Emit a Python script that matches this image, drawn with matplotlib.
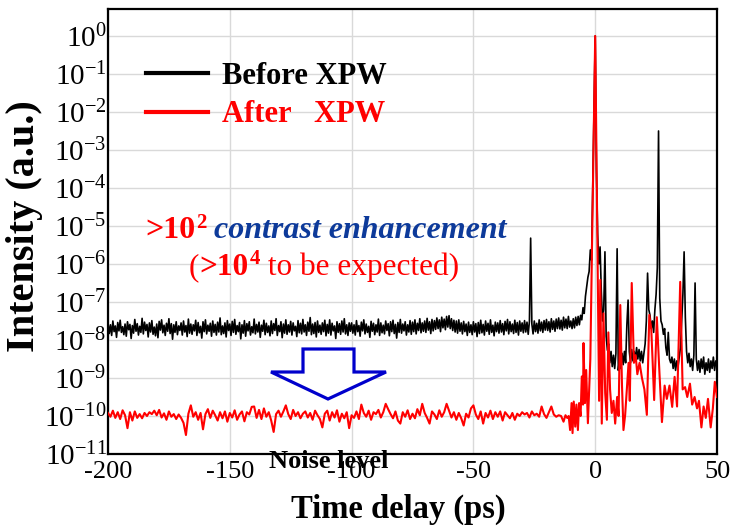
import numpy as np
import matplotlib
matplotlib.use("Agg")
import matplotlib.pyplot as plt
from matplotlib.ticker import FuncFormatter
from matplotlib.patches import Polygon

plt.rcParams['font.family'] = ['Liberation Serif', 'DejaVu Serif']
plt.rcParams['mathtext.fontset'] = 'custom'
plt.rcParams['mathtext.rm'] = 'Liberation Serif'
plt.rcParams['mathtext.bf'] = 'Liberation Serif:bold'

# ---------------- data (log10 of intensity) ----------------
# Before XPW: sampled every 0.5 ps from -200 ps to 50 ps
before_start, before_step = -200.0, 0.5
before_log = [
    # -200 .. -100.5
    -7.56,-7.83,-7.60,-7.88,-7.50,-7.78,-7.63,-7.93,-7.54,-7.76,
    -7.48,-7.80,-7.65,-7.86,-7.58,-7.90,-7.52,-7.73,-7.59,-7.96,
    -7.62,-7.82,-7.46,-7.77,-7.57,-7.87,-7.64,-7.80,-7.43,-7.84,
    -7.53,-7.75,-7.59,-7.92,-7.55,-7.79,-7.49,-7.85,-7.66,-7.89,
    -7.58,-7.94,-7.51,-7.74,-7.47,-7.81,-7.61,-7.88,-7.56,-7.77,
    -7.44,-7.83,-7.57,-7.98,-7.60,-7.80,-7.52,-7.86,-7.63,-7.75,
    -7.55,-7.87,-7.50,-7.79,-7.62,-7.91,-7.45,-7.82,-7.58,-7.85,
    -7.60,-7.76,-7.48,-7.88,-7.54,-7.81,-7.64,-7.95,-7.52,-7.78,
    -7.47,-7.84,-7.61,-7.77,-7.56,-7.90,-7.50,-7.80,-7.59,-7.87,
    -7.53,-7.79,-7.42,-7.86,-7.63,-7.83,-7.55,-7.92,-7.49,-7.75,
    -7.58,-7.88,-7.51,-7.80,-7.46,-7.85,-7.62,-7.78,-7.54,-7.97,
    -7.60,-7.82,-7.49,-7.90,-7.57,-7.76,-7.52,-7.87,-7.65,-7.81,
    -7.45,-7.84,-7.59,-7.79,-7.53,-7.93,-7.61,-7.77,-7.48,-7.86,
    -7.56,-7.80,-7.63,-7.89,-7.50,-7.83,-7.57,-7.75,-7.44,-7.88,
    -7.62,-7.78,-7.52,-7.94,-7.58,-7.82,-7.47,-7.85,-7.60,-7.79,
    -7.51,-7.87,-7.55,-7.76,-7.64,-7.91,-7.49,-7.81,-7.56,-7.84,
    -7.46,-7.79,-7.60,-7.88,-7.53,-7.77,-7.41,-7.86,-7.58,-7.83,
    -7.54,-7.92,-7.50,-7.80,-7.61,-7.85,-7.55,-7.78,-7.48,-7.89,
    -7.59,-7.82,-7.47,-7.87,-7.56,-7.76,-7.63,-7.96,-7.52,-7.80,
    -7.57,-7.85,-7.50,-7.79,-7.44,-7.84,-7.60,-7.88,-7.55,-7.77,
    # -100 .. -10.5
    -7.55,-7.82,-7.60,-7.87,-7.49,-7.78,-7.62,-7.90,-7.53,-7.76,
    -7.47,-7.84,-7.58,-7.80,-7.64,-7.93,-7.51,-7.77,-7.56,-7.86,
    -7.60,-7.79,-7.45,-7.88,-7.55,-7.81,-7.61,-7.84,-7.50,-7.75,
    -7.57,-7.89,-7.52,-7.78,-7.48,-7.83,-7.59,-7.95,-7.54,-7.80,
    -7.46,-7.82,-7.58,-7.76,-7.52,-7.87,-7.60,-7.79,-7.49,-7.85,
    -7.53,-7.78,-7.47,-7.84,-7.56,-7.75,-7.44,-7.81,-7.55,-7.77,
    -7.50,-7.80,-7.43,-7.74,-7.52,-7.83,-7.46,-7.76,-7.49,-7.72,
    -7.42,-7.70,-7.47,-7.78,-7.40,-7.68,-7.45,-7.73,-7.38,-7.66,
    -7.36,-7.70,-7.44,-7.75,-7.48,-7.79,-7.50,-7.82,-7.47,-7.77,
    -7.55,-7.84,-7.51,-7.78,-7.58,-7.88,-7.53,-7.80,-7.60,-7.86,
    -7.52,-7.79,-7.57,-7.91,-7.54,-7.83,-7.48,-7.81,-7.59,-7.87,
    -7.50,-7.77,-7.56,-7.85,-7.47,-7.80,-7.61,-7.89,-7.53,-7.78,
    -7.55,-7.82,-7.49,-7.79,-7.57,-7.86,-7.51,-7.76,-7.46,-7.84,
    -7.52,-7.78,-7.58,-7.83,-7.48,-7.80,-7.54,-7.87,-7.50,-7.77,
    -7.55,-7.81,-7.49,-7.79,-7.53,-7.85,-7.51,-5.32,-7.58,-7.84,
    -7.50,-7.78,-7.56,-7.82,-7.47,-7.76,-7.53,-7.80,-7.49,-7.74,
    -7.46,-7.75,-7.52,-7.79,-7.44,-7.72,-7.50,-7.77,-7.45,-7.70,
    -7.42,-7.71,-7.48,-7.74,-7.40,-7.68,-7.45,-7.70,-7.38,-7.66,
    # -10 .. 50
    -7.50,-7.70,-7.44,-7.68,-7.40,-7.62,-7.38,-7.60,-7.35,-7.47,
    -7.15,-7.30,-6.85,-6.60,-6.35,-6.20,-5.63,-5.90,-4.00,-2.00,
    0.00,-3.50,-5.20,-6.00,-5.55,-6.70,-7.50,-7.20,-5.68,-7.90,
    -8.27,-8.10,-8.60,-8.30,-8.70,-8.40,-8.75,-8.35,-5.60,-8.80,
    -8.45,-8.75,-8.35,-8.65,-8.30,-8.60,-7.60,-6.95,-8.30,-8.60,
    -8.25,-8.55,-8.30,-8.50,-8.20,-8.50,-8.25,-8.55,-8.30,-8.60,
    -8.35,-8.10,-7.50,-6.24,-7.20,-7.35,-7.70,-7.50,-7.80,-7.20,
    -6.80,-6.10,-2.50,-6.90,-7.50,-7.60,-7.85,-7.70,-8.20,-8.40,
    -7.80,-8.50,-8.60,-8.45,-8.75,-8.50,-8.80,-8.55,-8.70,-8.45,
    -8.20,-7.50,-6.80,-5.68,-7.40,-8.30,-8.60,-8.35,-8.70,-8.50,
    -8.80,-8.40,-6.50,-8.50,-8.80,-8.55,-8.85,-8.50,-8.75,-8.45,
    -8.90,-8.60,-8.80,-8.50,-8.85,-8.55,-8.75,-8.45,-8.80,-8.55,
    -8.70,
]

# After XPW: background every 1 ps from -200 to -15 ps
after_base_start, after_base_step = -200.0, 1.0
after_base_log = [
    -9.92,-10.02,-9.86,-10.05,-9.90,-10.08,-9.85,-9.98,-10.32,-9.90,
    -10.12,-9.88,-10.05,-9.95,-10.06,-9.92,-10.00,-9.90,-9.95,-9.86,
    -9.98,-9.84,-10.04,-9.93,-10.10,-9.88,-10.02,-9.95,-10.08,-9.96,
    -10.05,-10.18,-10.50,-9.94,-9.72,-10.02,-9.90,-10.10,-9.92,-10.35,
    -9.95,-9.82,-10.05,-9.86,-9.98,-10.12,-9.90,-10.06,-9.88,-10.15,
    -9.92,-10.04,-9.85,-10.10,-9.96,-9.88,-10.14,-9.90,-9.96,-9.76,
    -9.75,-10.05,-9.84,-10.08,-9.80,-10.02,-9.90,-10.12,-10.42,-9.95,
    -9.86,-10.02,-9.88,-9.72,-9.95,-10.08,-9.84,-10.00,-9.90,-10.06,
    -9.94,-9.88,-10.04,-9.92,-10.10,-9.86,-9.98,-10.08,-10.30,-9.94,
    -9.86,-10.12,-9.90,-10.04,-9.85,-10.15,-9.94,-10.06,-9.90,-10.32,
    -9.98,-10.05,-9.88,-10.08,-9.70,-9.92,-10.02,-9.86,-10.10,-9.90,
    -9.95,-9.84,-10.04,-9.90,-9.68,-9.82,-9.95,-10.06,-9.88,-10.12,
    -10.20,-9.90,-10.02,-9.85,-10.08,-9.94,-10.06,-9.82,-9.98,-9.68,
    -9.92,-10.05,-10.20,-9.88,-9.96,-10.08,-9.85,-10.02,-9.90,-9.68,
    -9.86,-10.04,-9.90,-10.10,-9.92,-10.06,-10.25,-9.94,-10.04,-9.80,
    -9.72,-9.96,-10.08,-9.88,-10.20,-9.92,-10.04,-9.86,-10.08,-9.90,
    -10.02,-9.88,-10.12,-9.90,-9.98,-10.06,-9.92,-10.10,-9.94,-10.00,
    -9.90,-9.96,-9.92,-10.04,-9.88,-9.98,-9.94,-10.02,-9.75,-9.95,
    -10.05,-9.90,-9.75,-9.96,-10.02,-9.98,
]
# After XPW: pulse region (time in ps, log10 intensity)
after_pulse_t = [
    -14.0,-13.0,-12.2,-11.5,-10.9,-10.3,-9.7,-9.3,-8.8,-8.2,-7.7,-7.1,-6.6,-6.0,
    -5.5,-5.0,-4.8,-4.2,-3.7,-3.0,-2.0,0.0,1.6,2.1,2.7,3.4,4.1,4.8,5.4,6.1,6.8,
    7.5,8.2,9.0,9.6,10.3,11.0,11.6,12.3,13.0,13.7,14.2,15.0,15.9,16.6,17.3,18.2,
    19.2,20.2,21.2,22.2,23.0,23.6,24.2,25.3,26.4,27.4,28.5,29.4,30.5,31.6,32.6,
    33.6,34.9,35.9,36.9,37.8,38.9,39.8,40.8,41.8,42.6,43.6,44.5,45.4,46.3,47.4,
    48.3,49.1,50.0,
]
after_pulse_log = [
    -10.00,-10.15,-9.98,-10.05,-10.00,-10.37,-9.66,-10.45,-9.62,-10.28,-9.70,-10.37,-9.66,-10.00,
    -8.96,-9.70,-8.08,-9.66,-8.79,-10.19,-8.50,0.00,-9.60,-6.42,-10.20,-7.30,-9.40,-10.10,-7.80,-9.30,-9.92,
    -9.60,-10.20,-9.50,-10.00,-7.08,-9.20,-10.37,-9.97,-9.30,-8.60,-9.60,-6.50,-8.60,-8.40,-8.90,-8.60,
    -9.00,-9.30,-9.97,-7.34,-7.70,-8.60,-9.58,-7.40,-8.90,-10.16,-9.20,-9.55,-9.20,-9.76,-8.97,
    -9.75,-6.47,-9.30,-9.24,-9.50,-9.15,-9.70,-9.50,-9.80,-9.60,-10.30,-9.75,-10.05,-9.55,-10.30,
    -9.80,-9.10,-9.50,
]

x_ticks = [-200, -150, -100, -50, 0, 50]
y_exponents = list(range(-11, 1))
series_labels = ["Before XPW", "After   XPW"]

# ---------------- build arrays ----------------
before_y = 10.0 ** np.array(before_log)
before_t = before_start + before_step * np.arange(len(before_y))
after_base_t = after_base_start + after_base_step * np.arange(len(after_base_log))
after_t = np.concatenate([after_base_t, np.array(after_pulse_t)])
after_y = 10.0 ** np.concatenate([np.array(after_base_log), np.array(after_pulse_log)])

# ---------------- figure ----------------
W, H = 731, 530
fig = plt.figure(figsize=(W / 100, H / 100), dpi=100)
L, R, T, B = 108, 717, 9, 454
ax = fig.add_axes([L / W, 1 - B / H, (R - L) / W, (B - T) / H])

ax.set_yscale('log')
l1, = ax.plot(before_t, before_y, color='black', lw=1.2, zorder=3, label=series_labels[0])
l2, = ax.plot(after_t, after_y, color='#ff0000', lw=1.5, zorder=4, label=series_labels[1])

ax.set_xlim(-200, 50)
ax.set_ylim(1e-11, 10 ** 0.71)
ax.set_xticks(x_ticks)
ax.set_xticklabels([str(v) for v in x_ticks])
ax.set_yticks([10.0 ** e for e in y_exponents])
ax.yaxis.set_major_formatter(FuncFormatter(
    lambda v, p: r'$\mathregular{10^{%d}}$' % int(round(np.log10(v)))))
ax.minorticks_off()
ax.grid(True, color='#d9d9d9', lw=1.0, zorder=0)
ax.set_axisbelow(True)
for s in ax.spines.values():
    s.set_linewidth(1.6)
    s.set_color('black')
ax.tick_params(axis='both', length=0)
ax.tick_params(axis='x', labelsize=19, pad=5)
ax.tick_params(axis='y', labelsize=21, pad=1)


def fx(px):
    return (px - L) / (R - L)


def fy(py):
    return (B - py) / (B - T)


ax.set_xlabel('Time delay (ps)', fontsize=23.5, fontweight='bold')
ax.xaxis.set_label_coords(fx(398), fy(494))
ax.set_ylabel('Intensity (a.u.)', fontsize=29, fontweight='bold')
ax.yaxis.set_label_coords(fx(43), fy(226))

# legend
leg = ax.legend(handles=[l1, l2], loc='upper left', bbox_to_anchor=(0.062, 0.882),
                frameon=False, handlelength=2.05, handletextpad=0.45,
                labelspacing=0.32, borderpad=0, borderaxespad=0,
                prop={'weight': 'bold', 'size': 22})
for ln in leg.get_lines():
    ln.set_linewidth(3.0)
leg.get_texts()[0].set_color('black')
leg.get_texts()[1].set_color('#ff0000')

RED = '#ff0000'
BLUE = '#0d3a9a'


def chain(prev, s, dx=0, dy=0, **kw):
    return ax.annotate(s, xy=(1, 0), xycoords=prev, xytext=(dx, dy),
                       textcoords='offset points', ha='left', va='bottom', **kw)


# line 1: >10^2 contrast enhancement
t1 = ax.text(fx(145), fy(245), '>10', transform=ax.transAxes, fontsize=23,
             fontweight='bold', color=RED, ha='left', va='bottom')
t1s = chain(t1, '2', dx=0.5, dy=9, fontsize=15, fontweight='bold', color=RED)
t1c = chain(t1s, ' contrast enhancement', dx=0, dy=-9, fontsize=23,
            fontweight='bold', fontstyle='italic', color=BLUE)

# line 2: (>10^4 to be expected)
t2 = ax.text(fx(189), fy(282), '(', transform=ax.transAxes, fontsize=22.5,
             color=RED, ha='left', va='bottom')
t2b = chain(t2, '>10', fontsize=22.5, fontweight='bold', color=RED)
t2s = chain(t2b, '4', dx=0.5, dy=9, fontsize=15, fontweight='bold', color=RED)
t2e = chain(t2s, ' to be expected)', dx=0, dy=-9, fontsize=22.5, color=RED)

# hollow arrow
arrow_px = [(303, 349), (354, 349), (354, 372), (386, 372), (328, 399),
            (271, 372), (303, 372)]
arrow = Polygon([(fx(x), fy(y)) for x, y in arrow_px], closed=True,
                transform=ax.transAxes, facecolor='white', edgecolor='#0000cc',
                lw=2.3, zorder=5, joinstyle='miter')
ax.add_patch(arrow)

ax.text(fx(329), fy(462), 'Noise level', transform=ax.transAxes, fontsize=19,
        fontweight='bold', color='black', ha='center', va='center', zorder=6,
        clip_on=False)

fig.savefig('out.png', dpi=100)
print(len(before_log), len(after_base_log), len(after_pulse_t), len(after_pulse_log))
